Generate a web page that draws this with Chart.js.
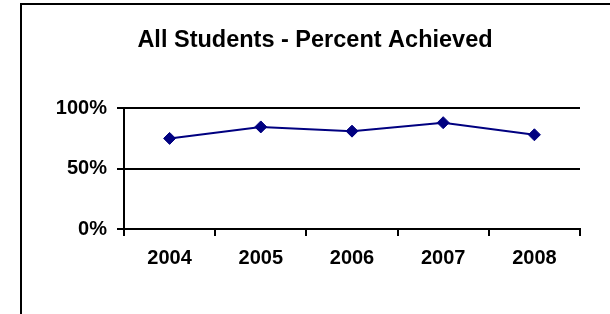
<!DOCTYPE html>
<html>
<head>
<meta charset="utf-8">
<script src="https://cdn.jsdelivr.net/npm/chart.js@4"></script>
<style>
    html, body { margin: 0; padding: 0; background: #fff; overflow: hidden; }
    .wrap { position: relative; width: 610px; height: 314px; }
    .frame {
        position: absolute; left: 20px; top: 3px; width: 620px; height: 330px;
        border-left: 2px solid #000; border-top: 2px solid #000; box-sizing: border-box;
    }
    canvas { position: absolute; left: 0; top: 0; }
</style>
</head>
<body>
<div class="wrap">
    <div class="frame"></div>
    <canvas id="chart" width="610" height="314"></canvas>
</div>
<script>
// Data
const years = ['2004', '2005', '2006', '2007', '2008'];
const percentAchieved = [75, 84.5, 81, 88, 78];
const yTicks = [0, 50, 100];

const FONT = "'Liberation Sans', Arial, sans-serif";
const NAVY = '#000080';

const ctx = document.getElementById('chart').getContext('2d');
new Chart(ctx, {
    type: 'line',
    data: {
        labels: years,
        datasets: [{
            label: 'All Students',
            data: percentAchieved,
            borderColor: NAVY,
            backgroundColor: NAVY,
            borderWidth: 2,
            pointStyle: 'rectRot',
            pointRadius: 6,
            pointBorderWidth: 1,
            pointBackgroundColor: NAVY,
            pointBorderColor: NAVY,
            tension: 0,
            fill: false
        }]
    },
    options: {
        responsive: false,
        animation: false,
        layout: {
            // title is centred over the whole frame, so no right padding here
            padding: { left: 20, right: 0, top: 0, bottom: 0 }
        },
        scales: {
            x: {
                offset: true,
                grid: {
                    offset: true,
                    drawOnChartArea: false,
                    drawTicks: true,
                    tickLength: 7,
                    color: '#000',
                    lineWidth: 2
                },
                border: { display: true, color: '#000', width: 2 },
                ticks: {
                    color: '#000',
                    padding: 10,
                    maxRotation: 0,
                    font: { family: FONT, size: 20, weight: 'bold' }
                },
                afterFit(scale) { scale.height = 85; }
            },
            y: {
                min: 0,
                max: 100,
                afterBuildTicks(scale) {
                    scale.ticks = yTicks.map(v => ({ value: v }));
                },
                grid: {
                    color: '#000',
                    lineWidth: 2,
                    tickLength: 7
                },
                border: { display: true, color: '#000', width: 2 },
                ticks: {
                    color: '#000',
                    padding: 10,
                    font: { family: FONT, size: 20, weight: 'bold' },
                    callback: v => v + '%'
                },
                afterFit(scale) { scale.width = 104; }
            },
            // empty spacer on the right so the plot ends where the reference does
            spacer: {
                type: 'linear',
                position: 'right',
                display: true,
                grid: { display: false },
                border: { display: false },
                ticks: { display: false },
                afterFit(scale) { scale.width = 30; }
            }
        },
        plugins: {
            legend: { display: false },
            tooltip: { enabled: false },
            title: {
                display: true,
                text: 'All Students - Percent Achieved',
                color: '#000',
                font: { family: FONT, size: 23.5, weight: 'bold' },
                padding: { top: 26, bottom: 54 }
            }
        }
    }
});
</script>
</body>
</html>
